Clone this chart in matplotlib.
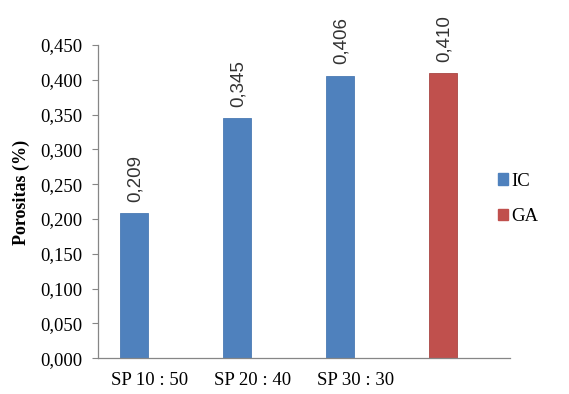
import matplotlib.pyplot as plt
from matplotlib.patches import Patch
from matplotlib.ticker import FuncFormatter

# porosity per mix
categories = ['SP 10 : 50', 'SP 20 : 40', 'SP 30 : 30', '']
ic_values = [0.209, 0.345, 0.406]
ga_values = [0.410]
y_ticks = [0.0, 0.05, 0.10, 0.15, 0.20, 0.25, 0.30, 0.35, 0.40, 0.45]

blue = '#4F81BD'
red = '#C0504D'
serif = ['Liberation Serif', 'DejaVu Serif']
sans = ['Liberation Sans', 'DejaVu Sans']

fig = plt.figure(figsize=(5.69, 3.94), dpi=100)
ax = fig.add_axes([0.172, 0.091, 0.724, 0.795])

shift = -0.15
width = 0.27
ic_x = [i + shift for i in range(len(ic_values))]
ga_x = [len(ic_values) + shift]
b1 = ax.bar(ic_x, ic_values, width=width, color=blue, edgecolor='#4A7AB4', linewidth=0.6)
b2 = ax.bar(ga_x, ga_values, width=width, color=red, edgecolor='#A94744', linewidth=0.6)

for bars, vals in ((b1, ic_values), (b2, ga_values)):
    for rect, v in zip(bars, vals):
        ax.annotate(('%.3f' % v).replace('.', ','),
                    (rect.get_x() + rect.get_width() / 2, v),
                    xytext=(1, 8), textcoords='offset points',
                    rotation=90, ha='center', va='bottom',
                    fontsize=13.5, family=sans, color='#333333')

ax.set_xlim(-0.5, 3.5)
ax.set_ylim(0, 0.45)
ax.set_xticks(range(len(categories)))
ax.set_xticklabels(categories, family=serif, fontsize=13.5)
ax.set_yticks(y_ticks)
ax.yaxis.set_major_formatter(FuncFormatter(lambda v, p: ('%.3f' % v).replace('.', ',')))
for lab in ax.get_yticklabels():
    lab.set_family(serif)
    lab.set_fontsize(13.5)

ax.tick_params(axis='x', length=0, pad=10)
ax.tick_params(axis='y', direction='out', length=4.5, width=0.8, color='#868686', pad=7)

for s in ('top', 'right'):
    ax.spines[s].set_visible(False)
for s in ('left', 'bottom'):
    ax.spines[s].set_color('#868686')
    ax.spines[s].set_linewidth(0.9)

ax.set_ylabel('Porositas (%)', family=serif, fontsize=13, fontweight='bold')
ax.yaxis.set_label_coords(-0.165, 0.53)

handles = [Patch(facecolor=blue, edgecolor=blue), Patch(facecolor=red, edgecolor=red)]
fig.legend(handles, ['IC', 'GA'], loc='center left', bbox_to_anchor=(0.845, 0.495),
           frameon=False, prop={'family': serif, 'size': 13.5},
           handlelength=0.55, handleheight=0.55, handletextpad=0.2, labelspacing=1.0)

fig.savefig('out.png', dpi=100)
